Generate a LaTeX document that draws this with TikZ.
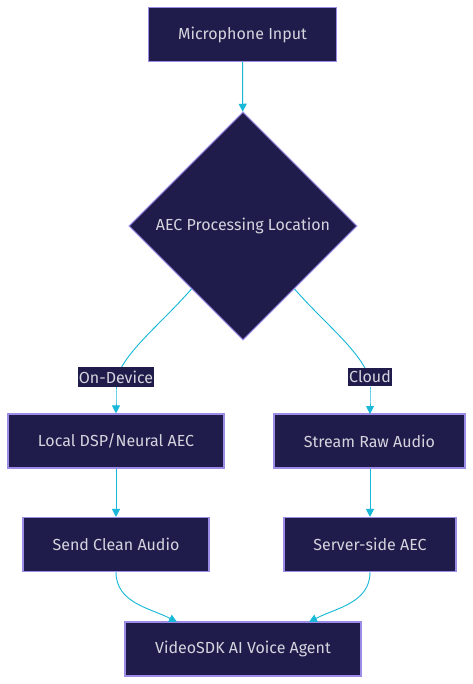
\documentclass[tikz,border=0pt]{standalone}
\usepackage{fontspec}
\setmainfont{Fira Sans}
\usetikzlibrary{shapes.geometric,arrows.meta,calc}
\definecolor{boxfill}{HTML}{1F1C4B}
\definecolor{boxline}{HTML}{9C8CE6}
\definecolor{boxtext}{HTML}{D4D4DE}
\definecolor{linkcol}{HTML}{1AB8D8}
\begin{document}
\begin{tikzpicture}[x=0.75pt,y=-0.75pt,
    box/.style={rectangle,draw=boxline,fill=boxfill,text=boxtext,line width=0.8pt,minimum height=40.5pt,font=\fontsize{12}{14}\selectfont},
    choice/.style={diamond,draw=boxline,fill=boxfill,text=boxtext,line width=0.8pt,aspect=1,inner sep=0pt,minimum size=171pt,font=\fontsize{12}{14}\selectfont},
    tag/.style={rectangle,fill=boxfill,text=boxtext,inner xsep=1pt,inner ysep=2.5pt,font=\fontsize{12}{14}\selectfont},
    link/.style={draw=linkcol,line width=0.7pt},
    arr/.style={link,-{Triangle[length=6pt,width=6pt]}}]
    \useasboundingbox (0,0) rectangle (473,684);
    \node[box,minimum width=141pt] (mic) at (242.5,34.5) {Microphone Input};
    \node[choice] (aec) at (243,226) {AEC Processing Location};
    \node[box,minimum width=162pt] (local) at (116,441) {Local DSP/Neural AEC};
    \node[box,minimum width=143.25pt] (stream) at (369.5,441) {Stream Raw Audio};
    \node[box,minimum width=139.5pt] (clean) at (116,544.5) {Send Clean Audio};
    \node[box,minimum width=129pt] (server) at (370,544.5) {Server-side AEC};
    \node[box,minimum width=177pt] (agent) at (243,649) {VideoSDK AI Voice Agent};
    % edges
    \draw[arr] (mic) -- (aec);
    \draw[link] ($(aec.west)!0.55!(aec.south)$) .. controls (160,325) and (124,352) .. (116,380);
    \draw[link] ($(aec.east)!0.55!(aec.south)$) .. controls (326,325) and (362,352) .. (370,380);
    \node[tag] (ondev) at (116,377) {On-Device};
    \node[tag] (cloud) at (370,377) {Cloud};
    \draw[arr] (ondev.south) .. controls (116,395) .. (local.north);
    \draw[arr] (cloud.south) .. controls (370,395) .. (370,414);
    \draw[arr] (local) -- (clean);
    \draw[arr] (stream.south -| server.north) -- (server);
    \draw[arr] (clean.south) .. controls (116,603) and (150,608) .. (177,622);
    \draw[arr] (server.south) .. controls (370,603) and (336,608) .. (309,622);
\end{tikzpicture}
\end{document}
